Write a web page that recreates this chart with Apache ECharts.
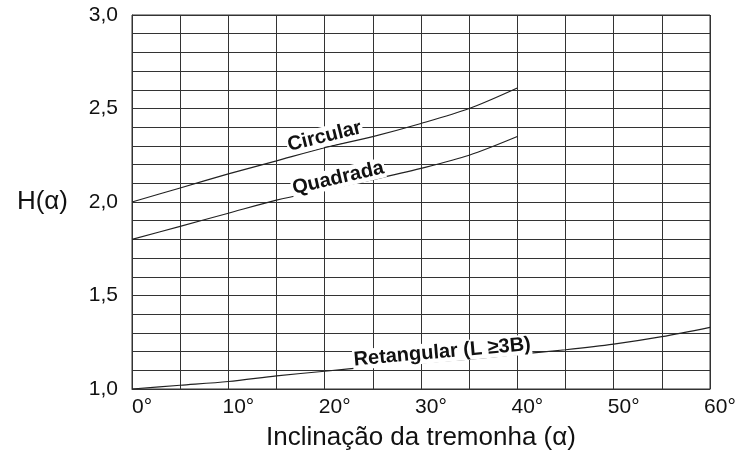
<!DOCTYPE html>
<html>
<head>
<meta charset="utf-8">
<script src="https://cdn.jsdelivr.net/npm/echarts@6/dist/echarts.min.js"></script>
<style>
	html, body { margin: 0; padding: 0; background: #fff; }
	#chart { width: 741px; height: 461px; }
</style>
</head>
<body>
<div id="chart"></div>
<script>
	/* valores */
	var angulos = [0, 5, 10, 15, 20, 25, 30, 35, 40, 45, 50, 55, 60];
	var circular = [2.00, 2.075, 2.15, 2.22, 2.29, 2.35, 2.42, 2.50, 2.61];
	var quadrada = [1.80, 1.87, 1.94, 2.01, 2.065, 2.12, 2.18, 2.25, 2.35];
	var retangular = [1.00, 1.02, 1.04, 1.07, 1.095, 1.12, 1.14, 1.16, 1.185, 1.21, 1.24, 1.28, 1.33];
	var xTicks = [0, 10, 20, 30, 40, 50, 60];
	var yTicks = [1.0, 1.5, 2.0, 2.5, 3.0];

	function pares(vals) {
		return vals.map(function(v, i) { return [angulos[i], v]; });
	}

	function rotulo(texto, x, y, rot) {
		return {
			coord: [x, y],
			symbol: 'circle',
			symbolSize: 0,
			label: {
				show: true,
				formatter: texto,
				rotate: rot,
				position: 'inside',
				color: '#111',
				fontFamily: 'Liberation Sans',
				fontWeight: 'bold',
				fontSize: 20,
				backgroundColor: '#fff',
				padding: [0, 1, 0, 1]
			}
		};
	}

	function serie(nome, vals, label) {
		return {
			name: nome,
			type: 'line',
			data: pares(vals),
			symbol: 'none',
			smooth: 0.3,
			lineStyle: { color: '#222', width: 1.2 },
			markPoint: { silent: true, data: [label] },
			z: 3
		};
	}

	var option = {
		backgroundColor: '#fff',
		animation: false,
		grid: {
			left: 132,
			right: 31,
			top: 15,
			bottom: 72,
			show: true,
			borderColor: '#333',
			borderWidth: 1
		},
		xAxis: {
			type: 'value',
			min: 0,
			max: 60,
			interval: 5,
			name: 'Inclinação da tremonha (α)',
			nameLocation: 'middle',
			nameGap: 36,
			nameTextStyle: { fontFamily: 'Liberation Sans', fontSize: 26, color: '#111' },
			axisLine: { lineStyle: { color: '#333' } },
			axisTick: { show: false },
			axisLabel: {
				fontFamily: 'Liberation Sans',
				fontSize: 21,
				color: '#111',
				margin: 8,
				padding: [0, 0, 0, 20],
				formatter: function(v) {
					return xTicks.indexOf(v) >= 0 ? v + '°' : '';
				}
			},
			splitLine: { show: true, lineStyle: { color: '#333', width: 1 } }
		},
		yAxis: {
			type: 'value',
			min: 1,
			max: 3,
			interval: 0.1,
			name: 'H(α)',
			nameLocation: 'middle',
			nameRotate: 0,
			nameGap: 64,
			nameTextStyle: { fontFamily: 'Liberation Sans', fontSize: 26, color: '#111' },
			axisLine: { lineStyle: { color: '#333' } },
			axisTick: { show: false },
			axisLabel: {
				fontFamily: 'Liberation Sans',
				fontSize: 21,
				color: '#111',
				margin: 14,
				padding: [0, 0, 4, 0],
				formatter: function(v) {
					var r = Math.round(v * 10) / 10;
					for (var i = 0; i < yTicks.length; i++) {
						if (Math.abs(yTicks[i] - r) < 1e-6) return r.toFixed(1).replace('.', ',');
					}
					return '';
				}
			},
			splitLine: { show: true, lineStyle: { color: '#333', width: 1 } }
		},
		series: [
			serie('Circular', circular, rotulo('Circular', 20, 2.35, 14)),
			serie('Quadrada', quadrada, rotulo('Quadrada', 21.4, 2.128, 13)),
			serie('Retangular', retangular, rotulo('Retangular (L ≥3B)', 32.2, 1.197, 5))
		]
	};

	var Chart = echarts.init(document.getElementById('chart'));
	Chart.setOption(option);
</script>
</body>
</html>
